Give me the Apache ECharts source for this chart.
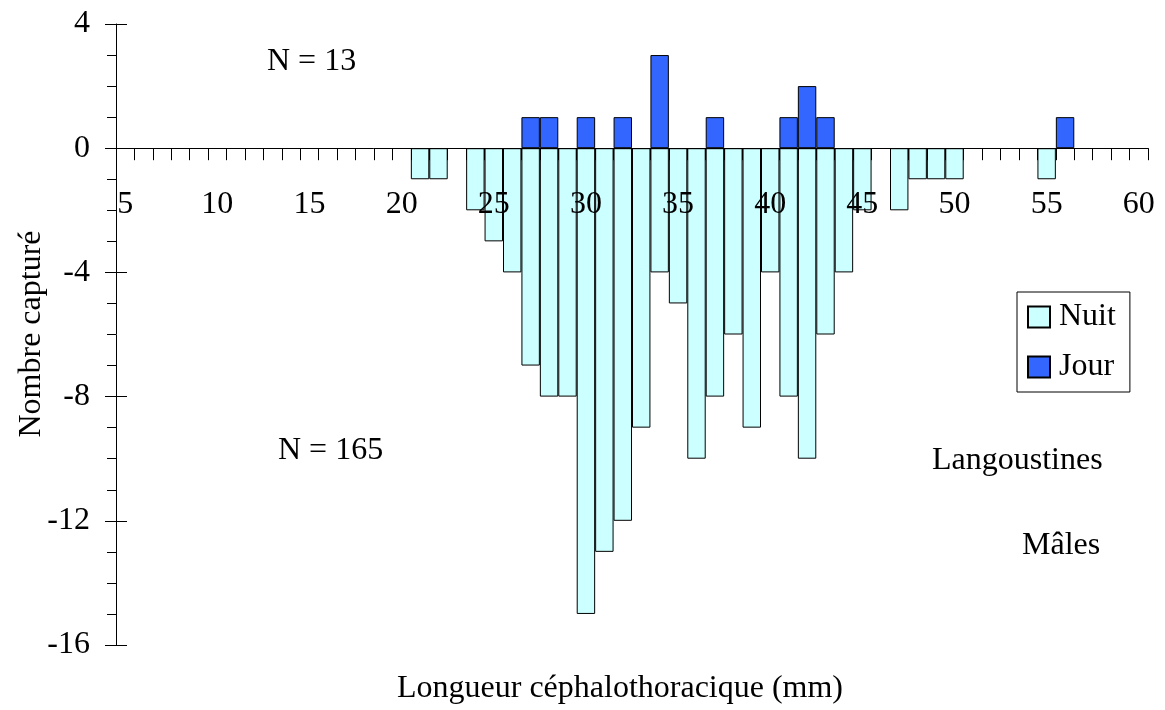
<!DOCTYPE html>
<html>
<head>
<meta charset="utf-8">
<script src="https://cdn.jsdelivr.net/npm/echarts@6/dist/echarts.min.js"></script>
<style>
  html, body { margin: 0; padding: 0; background: #fff; }
  #chart { width: 1165px; height: 710px; }
</style>
</head>
<body>
<div id="chart"></div>
<script>
// Longueur céphalothoracique (mm), one category per mm
const categories = [
  '5','6','7','8','9','10','11','12','13','14',
  '15','16','17','18','19','20','21','22','23','24',
  '25','26','27','28','29','30','31','32','33','34',
  '35','36','37','38','39','40','41','42','43','44',
  '45','46','47','48','49','50','51','52','53','54',
  '55','56','57','58','59','60'
];
// Night catches (plotted negative)
const nuit = [
  null, null, null, null, null, null, null, null, null, null,   // 5-14
  null, null, null, null, null, null, -1, -1, null, -2,         // 15-24
  -3, -4, -7, -8, -8, -15, -13, -12, -9, -4,                    // 25-34
  -5, -10, -8, -6, -9, -4, -8, -10, -6, -4,                     // 35-44
  -2, null, -2, -1, -1, -1, null, null, null, null,             // 45-54
  -1, null, null, null, null, null                              // 55-60
];
// Day catches (plotted positive)
const jour = [
  null, null, null, null, null, null, null, null, null, null,   // 5-14
  null, null, null, null, null, null, null, null, null, null,   // 15-24
  null, null, 1, 1, null, 1, null, 1, null, 3,                  // 25-34
  null, null, 1, null, null, null, 1, 2, 1, null,               // 35-44
  null, null, null, null, null, null, null, null, null, null,   // 45-54
  null, 1, null, null, null, null                               // 55-60
];
const yTicks = { min: -16, max: 4, interval: 4 };
const seriesNames = ['Nuit', 'Jour'];
const notes = ['N = 13', 'N = 165', 'Langoustines', 'Mâles'];
const xTitle = 'Longueur céphalothoracique (mm)';
const yTitle = 'Nombre capturé';

const FONT = '"Liberation Serif", "Times New Roman", serif';
const chart = echarts.init(document.getElementById('chart'), null, { renderer: 'canvas' });

const GRID_TOP = 24, GRID_H = 621;
// distance from the grid bottom up to the value 0 line
const zeroOffset = -GRID_H * (0 - yTicks.min) / (yTicks.max - yTicks.min);

function txt(text, x, y, align, rot) {
  return {
    type: 'text', x: x, y: y, rotation: rot || 0, z: 50,
    style: { text: text, fill: '#000', fontSize: 32, fontFamily: FONT,
             align: align, verticalAlign: 'middle' }
  };
}

const option = {
  animation: false,
  backgroundColor: '#fff',
  grid: { left: 116, top: GRID_TOP, height: GRID_H, width: 1032, outerBoundsMode: 'none', containLabel: false },
  legend: {
    data: seriesNames,
    orient: 'vertical',
    left: 1017, top: 292,
    borderColor: '#000', borderWidth: 1,
    backgroundColor: '#fff',
    padding: [9, 14, 9, 10],
    itemGap: 18,
    itemWidth: 22, itemHeight: 21,
    icon: 'rect',
    textStyle: { fontSize: 32, fontFamily: FONT, color: '#000', padding: [0, 0, 0, 4] }
  },
  xAxis: {
    type: 'category',
    data: categories,
    boundaryGap: true,
    position: 'bottom',
    offset: zeroOffset,
    z: 10,
    axisLine: { onZero: false, lineStyle: { color: '#000', width: 1 } },
    axisTick: { show: true, interval: 0, length: 12, inside: false, lineStyle: { color: '#000' } },
    axisLabel: { interval: 4, margin: 40, fontSize: 32, fontFamily: FONT, color: '#000' },
    splitLine: { show: false }
  },
  yAxis: [
    {
      type: 'value', min: yTicks.min, max: yTicks.max, interval: yTicks.interval,
      axisLine: { show: true, onZero: false, lineStyle: { color: '#000' } },
      axisTick: { show: true, length: 11, inside: false, lineStyle: { color: '#000' } },
      minorTick: { show: true, splitNumber: 4, length: 9, lineStyle: { color: '#000' } },
      axisLabel: { margin: 26, fontSize: 32, fontFamily: FONT, color: '#000' },
      splitLine: { show: false }
    },
    {
      type: 'value', min: yTicks.min, max: yTicks.max, interval: yTicks.interval,
      position: 'left', offset: 0,
      axisLine: { show: false, onZero: false },
      axisTick: { show: true, length: 11, inside: true, lineStyle: { color: '#000' } },
      axisLabel: { show: false },
      splitLine: { show: false }
    }
  ],
  series: [
    {
      name: seriesNames[0], type: 'bar', stack: 'catch', yAxisIndex: 0,
      data: nuit, barCategoryGap: '0%',
      itemStyle: { color: '#CCFFFF', borderColor: '#000', borderWidth: 1 }
    },
    {
      name: seriesNames[1], type: 'bar', stack: 'catch', yAxisIndex: 0,
      data: jour, barCategoryGap: '0%',
      itemStyle: { color: '#3366FF', borderColor: '#000', borderWidth: 1 }
    }
  ],
  graphic: [
    txt(notes[0], 267, 62, 'left'),
    txt(notes[1], 278, 451, 'left'),
    txt(notes[2], 932, 461, 'left'),
    txt(notes[3], 1022, 546, 'left'),
    txt(xTitle, 620, 689, 'center'),
    txt(yTitle, 32, 334, 'center', Math.PI / 2)
  ]
};
chart.setOption(option);
</script>
</body>
</html>
